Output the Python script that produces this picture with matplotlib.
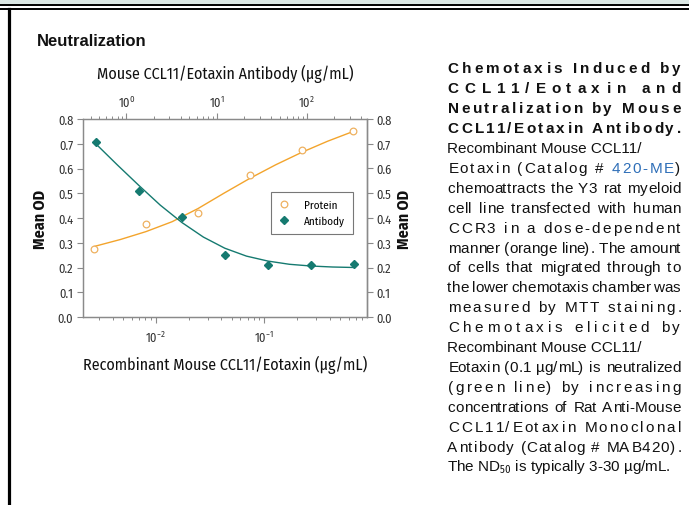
import matplotlib.pyplot as plt
from matplotlib.patches import Rectangle
from matplotlib.lines import Line2D
from matplotlib.font_manager import FontProperties, findfont, get_font

narrow = ['Fira Sans Condensed', 'PT Sans Narrow', 'Roboto Condensed',
          'Liberation Sans', 'DejaVu Sans']
plt.rcParams['font.family'] = narrow
plt.rcParams['mathtext.fontset'] = 'custom'
plt.rcParams['mathtext.rm'] = 'Fira Sans Condensed'
plt.rcParams['mathtext.it'] = 'Fira Sans Condensed'
plt.rcParams['mathtext.bf'] = 'Fira Sans Condensed:bold'

# recombinant protein (bottom axis) and antibody (top axis), ug/mL vs mean OD
protein_conc = [0.0027, 0.0081, 0.0244, 0.0733, 0.22, 0.66]
protein_od = [0.275, 0.376, 0.420, 0.574, 0.675, 0.752]
antibody_conc = [0.457, 1.37, 4.11, 12.3, 37.0, 111, 333]
antibody_od = [0.707, 0.509, 0.404, 0.250, 0.210, 0.210, 0.214]

# fitted curves
protein_fit_conc = [0.0027, 0.0047, 0.0081, 0.0141, 0.0244, 0.0423,
                    0.0733, 0.127, 0.22, 0.381, 0.66]
protein_fit_od = [0.285, 0.313, 0.345, 0.385, 0.438, 0.500,
                  0.560, 0.615, 0.665, 0.710, 0.750]
antibody_fit_conc = [0.457, 0.79, 1.37, 2.37, 4.11, 7.12, 12.3,
                     21.4, 37.0, 64.0, 111, 192, 333]
antibody_fit_od = [0.700, 0.615, 0.532, 0.452, 0.382, 0.323, 0.278,
                   0.246, 0.226, 0.213, 0.206, 0.202, 0.200]

# caption lines: text, weight, how the line is justified
caption = [
    ("Chemotaxis Induced by", "bold", "letters"),
    ("CCL11/Eotaxin and", "bold", "letters"),
    ("Neutralization by Mouse", "bold", "letters"),
    ("CCL11/Eotaxin Antibody.", "bold", "letters"),
    ("Recombinant Mouse CCL11/", "normal", "left"),
    ("Eotaxin (Catalog # 420-ME)", "normal", "letters"),
    ("chemoattracts the Y3 rat myeloid", "normal", "words"),
    ("cell line transfected with human", "normal", "words"),
    ("CCR3 in a dose-dependent", "normal", "letters"),
    ("manner (orange line). The amount", "normal", "words"),
    ("of cells that migrated through to", "normal", "words"),
    ("the lower chemotaxis chamber was", "normal", "words"),
    ("measured by MTT staining.", "normal", "letters"),
    ("Chemotaxis elicited by", "normal", "letters"),
    ("Recombinant Mouse CCL11/", "normal", "left"),
    ("Eotaxin (0.1 \u00b5g/mL) is neutralized", "normal", "words"),
    ("(green line) by increasing", "normal", "letters"),
    ("concentrations of Rat Anti-Mouse", "normal", "words"),
    ("CCL11/Eotaxin Monoclonal", "normal", "letters"),
    ("Antibody (Catalog # MAB420).", "normal", "letters"),
]

orange = '#f3a42c'
orange_pt = '#eeb160'
teal = '#157a70'
gray = '#8a8a8a'
ink = '#111111'

W, H = 689, 506
fig = plt.figure(figsize=(W / 100, H / 100), dpi=100)


def fx(px):
    return px / W


def fy(py):
    return 1 - py / H


# page frame
fig.add_artist(Rectangle((0, fy(5)), 1, 5 / H, transform=fig.transFigure,
                         facecolor='#dbe7e4', edgecolor='none'))
fig.add_artist(Line2D([0, 1], [fy(6), fy(6)], color='black', lw=1.4))
fig.add_artist(Line2D([0, 1], [fy(10), fy(10)], color='black', lw=1.4))
fig.add_artist(Line2D([fx(8.5), fx(8.5)], [fy(10), 0], color='black', lw=2.3))

fig.text(fx(37), fy(41), "Neutralization", family='Liberation Sans',
         weight='bold', size=12, va='center', ha='left', color=ink)

# chart
ax = fig.add_axes([fx(83), fy(318), (367 - 83) / W, (318 - 120) / H])
ax.set_xscale('log')
ax.plot(protein_fit_conc, protein_fit_od, color=orange, lw=1.0)
ax.plot(protein_conc, protein_od, 'o', ls='none', mfc='white', mec=orange_pt,
        ms=4.8, mew=0.9, label='Protein')
ax.set_xlim(0.00213, 0.881)
ax.set_ylim(0, 0.8)
yt = [0.0, 0.1, 0.2, 0.3, 0.4, 0.5, 0.6, 0.7, 0.8]
ax.set_yticks(yt)
ax.set_yticklabels([f'{v:.1f}' for v in yt])

axt = ax.twiny()
axt.set_xscale('log')
axt.plot(antibody_fit_conc, antibody_fit_od, color=teal, lw=1.0)
axt.plot(antibody_conc, antibody_od, 'D', ls='none', color=teal, ms=4.2,
         label='Antibody')
axt.set_xlim(0.33, 464)

axr = ax.secondary_yaxis('right')
axr.set_yticks(yt)
axr.set_yticklabels([f'{v:.1f}' for v in yt])

for a in (ax, axt, axr):
    for sp in a.spines.values():
        sp.set_color(gray)
        sp.set_linewidth(0.9)
    a.tick_params(which='major', direction='out', length=4, width=0.8,
                  color=gray, labelsize=9, labelcolor='#333333', pad=3)
    a.tick_params(which='minor', direction='out', length=2.5, width=0.7,
                  color=gray)
ax.tick_params(axis='x', which='major', pad=5)

h1, l1 = ax.get_legend_handles_labels()
h2, l2 = axt.get_legend_handles_labels()
leg = axt.legend(h1 + h2, l1 + l2, loc='upper right',
                 bbox_to_anchor=(0.951, 0.631), fancybox=False,
                 edgecolor='#777777', framealpha=1, fontsize=8,
                 handlelength=1.0, handletextpad=1.3, borderpad=0.7,
                 labelspacing=0.4, borderaxespad=0)
leg.get_frame().set_linewidth(0.8)

fig.text(fx(225), fy(74), "Mouse CCL11/Eotaxin Antibody (\u03bcg/mL)",
         size=11.5, ha='center', va='center', color=ink)
fig.text(fx(225), fy(365), "Recombinant Mouse CCL11/Eotaxin (\u03bcg/mL)",
         size=11.5, ha='center', va='center', color=ink)
fig.text(fx(40), fy(219), "Mean OD", size=11.5, weight='bold',
         rotation=90, ha='center', va='center', color=ink)
fig.text(fx(404), fy(219), "Mean OD", size=11.5, weight='bold',
         rotation=90, ha='center', va='center', color=ink)

# caption column, justified across the column width
body = FontProperties(family='Liberation Sans', size=11)
bold = FontProperties(family='Liberation Sans', size=11, weight='bold')
x0, x1 = 447, 680


def spread(text, base, prop, colors, letter_w):
    font = get_font(findfont(prop))
    font.set_size(prop.get_size_in_points(), 100)
    adv, bear = [], []
    for ch in text:
        g = font.load_char(ord(ch))
        adv.append(g.linearHoriAdvance / 65536)
        bear.append(g.horiBearingX / 64)
    weights = []
    for a, b in zip(text[:-1], text[1:]):
        weights.append(1.0 if (a == ' ' or b == ' ') else letter_w)
    unit = (x1 - x0 - sum(adv)) / sum(weights)
    pen = x0
    for i, ch in enumerate(text):
        if ch != ' ':
            fig.text(fx(pen + max(bear[i], 0)), fy(base), ch,
                     fontproperties=prop, ha='left', va='baseline',
                     color=colors[i])
        if i < len(weights):
            pen += adv[i] + unit * weights[i]


for i, (line, weight, mode) in enumerate(caption):
    base = 73.5 + 19.9 * i
    prop = bold if weight == 'bold' else body
    cols = [ink] * len(line)
    if '420-ME' in line:
        k = line.index('420-ME')
        for j in range(k, k + 6):
            cols[j] = '#2f6fb8'
    if mode == 'letters':
        spread(line, base, prop, cols, 1.0)
    elif mode == 'words':
        spread(line, base, prop, cols, 0.15)
    else:
        fig.text(fx(x0), fy(base), line, fontproperties=prop,
                 ha='left', va='baseline', color=ink)

fig.text(fx(x0), fy(73.5 + 19.9 * 20),
         "The ND$_{50}$ is typically 3-30 \u00b5g/mL.",
         fontproperties=body, ha='left', va='baseline', color=ink)

fig.savefig('out.png', dpi=100)
